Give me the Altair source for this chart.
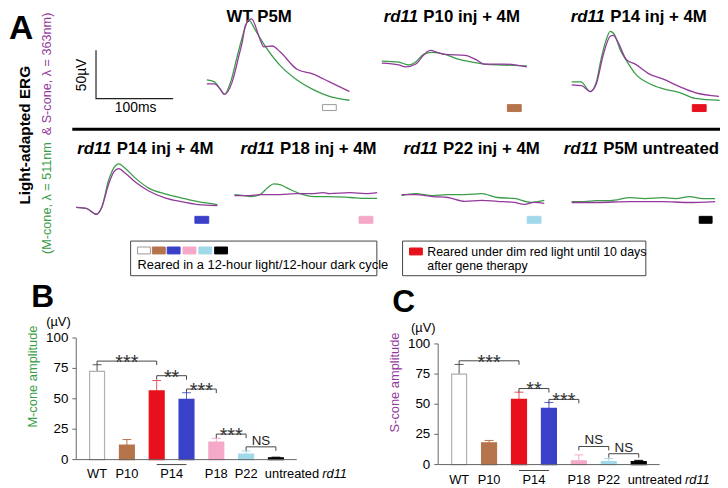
import altair as alt
import pandas as pd

OFF = 8  # page margin: figure pixel -> chart pixel
FONT = "Liberation Sans"
GREEN = "#3a9d48"
PURPLE = "#94399c"
PX_MS = 0.78   # pixels per ms in panel A
PX_UV = 0.98   # pixels per microvolt in panel A

# ---------------- Panel A: ERG traces (time in ms, amplitude in µV) ----------------
WT_M_T = [0, 10, 17, 23, 31, 40, 49, 54, 64, 74, 95, 117, 138, 159, 185]
WT_M_V = [1, -1, -8, -14, -1, 27, 53, 63, 51, 38, 16, 1, -9, -16, -20]
WT_S_T = [0, 10, 17, 23, 33, 42, 46, 50, 58, 69, 74, 85, 95, 117, 138, 159, 185]
WT_S_V = [-3, -3, -8, -14, -1, 27, 40, 57, 64, 43, 35, 36, 30, 12, 7, -1, -11]

P10_M_T = [0, 22, 35, 44, 54, 65, 82, 99, 117, 133, 159, 188]
P10_M_V = [1, 0, -3, 0, 8, 10, 8, 3, 0, -2, -3, -4]
P10_S_T = [0, 22, 31, 44, 54, 63, 72, 82, 108, 121, 133, 159, 188]
P10_S_V = [-1, -3, -5, -2, 7, 12, 10, 8, 7, 3, -2, -2, -5]

P14R_M_T = [0, 12, 24, 32, 38, 45, 50, 56, 63, 71, 83, 101, 118, 140, 160, 192]
P14R_M_V = [0, 0, -10, 0, 23, 44, 52, 48, 33, 22, 8, -2, -7, -11, -17, -19]
P14R_S_T = [0, 13, 24, 32, 41, 50, 54, 60, 71, 83, 101, 118, 140, 160, 191]
P14R_S_V = [-3, -4, -10, -2, 28, 47, 48, 41, 23, 18, 8, 3, -5, -11, -15]

P14B_M_T = [0, 13, 26, 33, 42, 49, 55, 64, 77, 94, 115, 136, 158, 183]
P14B_M_V = [0, -1, -7, 0, 28, 41, 45, 40, 30, 20, 14, 10, 6, 3]
P14B_S_T = [0, 13, 26, 33, 42, 49, 55, 64, 77, 94, 115, 136, 158, 183]
P14B_S_V = [0, -1, -7, 0, 24, 37, 40, 35, 26, 17, 10, 6, 3, 2]

P18_M_T = [0, 12, 21, 33, 43, 51, 60, 68, 85, 103, 123, 150, 170, 185]
P18_M_V = [0, -1, -2, 0, 7, 11, 10, 7, 1, -2, -2, -3, -4, -4]
P18_S_T = [0, 20, 33, 59, 80, 103, 115, 123, 150, 170, 185]
P18_S_V = [-1, -1, 0, 0, 1, 1, 2, 1, 2, 1, 2]

P22_M_T = [0, 18, 40, 60, 82, 104, 124, 146, 168, 185]
P22_M_V = [-1, 1, -1, 0, 0, 1, -3, -4, -8, -6]
P22_S_T = [0, 18, 40, 60, 82, 104, 124, 146, 159, 172, 185]
P22_S_V = [0, 0, -2, -3, -7, -6, -7, -8, -10, -8, -9]

UNT_M_T = [0, 16, 32, 50, 76, 95, 118, 135, 153, 170, 186]
UNT_M_V = [0, 0, 1, 1, 4, 3, 4, 3, 5, 3, 3]
UNT_S_T = [0, 32, 76, 118, 150, 186]
UNT_S_V = [-1, -1, 0, 0, -1, 0]

SCALEBAR_MS = [0, 0, 100]
SCALEBAR_UV = [50, 0, 0]

# ---------------- Panels B and C: amplitudes (µV) ----------------
GROUPS = ["WT", "P10", "P14 red", "P14 blue", "P18", "P22", "untreated"]
BAR_FILL = ["#ffffff", "#b5744c", "#e8101c", "#3a40c8", "#f6a8c8", "#a2d9ea", "#000000"]
BAR_STROKE = ["#b0b0b0", "#b5744c", "#e8101c", "#3a40c8", "#f6a8c8", "#a2d9ea", "#000000"]
ERR_COLOR = ["#555555", "#b5744c", "#e8505e", "#5a60d0", "#f6a8c8", "#a2d9ea", "#000000"]

M_AMP = [72.5, 12, 56.5, 49.5, 14.5, 4.5, 1.5]
M_ERR_TOP = [78, 16.5, 65, 55, 17.5, 7, 2]
S_AMP = [75, 18, 54, 46.5, 3, 2.5, 2.5]
S_ERR_TOP = [83, 20, 60, 51.5, 8, 5, 3.5]

M_BR_FROM = [1, 3, 4, 5, 6]
M_BR_TO = [3, 4, 5, 6, 7]
M_BR_H = [81, 69, 58, 21, 10.5]
M_BR_LAB = ["***", "**", "***", "***", "NS"]
S_BR_FROM = [1, 3, 4, 5, 6]
S_BR_TO = [3, 4, 5, 6, 7]
S_BR_H = [86, 63, 54, 15, 9]
S_BR_LAB = ["***", "**", "***", "NS", "NS"]

Y_TICKS = [0, 25, 50, 75, 100]
X_LAB_POS = [1, 2, 3.5, 5, 6]
X_LAB = ["WT", "P10", "P14", "P18", "P22"]

ONE = pd.DataFrame({"a": [0]})
layers = []


def txt(s, x, y, size, color="black", weight="normal", style="normal",
        align="center", baseline="middle", angle=0):
    return alt.Chart(ONE).mark_text(
        text=s, font=FONT, fontSize=size, fontWeight=weight, fontStyle=style,
        color=color, align=align, baseline=baseline, angle=angle
    ).encode(x=alt.value(x - OFF), y=alt.value(y - OFF))


def box(x1, x2, y1, y2, fill, stroke, sw=1):
    return alt.Chart(ONE).mark_rect(fill=fill, stroke=stroke, strokeWidth=sw).encode(
        x=alt.value(x1 - OFF), x2=alt.value(x2 - OFF),
        y=alt.value(y1 - OFF), y2=alt.value(y2 - OFF))


def trace(tm, vm, ts, vs, x0, y0):
    df = pd.DataFrame({
        "t": tm + ts, "v": vm + vs,
        "s": ["M"] * len(tm) + ["S"] * len(ts),
        "c": [GREEN] * len(tm) + [PURPLE] * len(ts),
    })
    xs = alt.Scale(domain=[0, 200], range=[x0 - OFF, x0 - OFF + 200 * PX_MS], nice=False, zero=False)
    ys = alt.Scale(domain=[-50, 70], range=[y0 - OFF + 50 * PX_UV, y0 - OFF - 70 * PX_UV],
                   nice=False, zero=False)
    return alt.Chart(df).mark_line(strokeWidth=1.3, interpolate="monotone").encode(
        x=alt.X("t:Q", scale=xs, axis=None),
        y=alt.Y("v:Q", scale=ys, axis=None),
        color=alt.Color("c:N", scale=None),
        detail="s:N")


# ---- panel A texts ----
layers.append(txt("A", 9, 27, 34, weight="bold", align="left"))
layers.append(txt("Light-adapted ERG", 25, 134, 15.5, weight="bold", angle=270))
layers.append(txt("(M-cone, λ = 511nm", 47, 254, 12.8, color=GREEN, align="left", angle=270))
layers.append(txt("& S-cone, λ = 363nm)", 47, 10, 12.8, color=PURPLE, align="right", angle=270))

# scale bar
sb = pd.DataFrame({"t": SCALEBAR_MS, "v": SCALEBAR_UV, "o": [0, 1, 2]})
layers.append(alt.Chart(sb).mark_line(color="#222", strokeWidth=1.2).encode(
    x=alt.X("t:Q", scale=alt.Scale(domain=[0, 100], range=[97 - OFF, 97 - OFF + 100 * PX_MS], nice=False, zero=False), axis=None),
    y=alt.Y("v:Q", scale=alt.Scale(domain=[0, 50], range=[97 - OFF, 97 - OFF - 50 * PX_UV], nice=False, zero=False), axis=None),
    order="o:Q"))
layers.append(txt("50µV", 83, 73, 14, angle=270))
layers.append(txt("100ms", 137, 106, 14))

# titles
layers.append(txt("WT P5M", 262, 14, 17, weight="bold"))
for xs_, ys_, rest in [(388, 14, "P10 inj + 4M"), (577, 14, "P14 inj + 4M"),
                       (78, 148, "P14 inj + 4M"), (243, 148, "P18 inj + 4M"),
                       (408, 148, "P22 inj + 4M"), (570, 148, "P5M untreated")]:
    layers.append(txt("rd11", xs_, ys_, 17, weight="bold", style="italic", align="left"))
    layers.append(txt(rest, xs_ + 40, ys_, 17, weight="bold", align="left"))

# traces
layers.append(trace(WT_M_T, WT_M_V, WT_S_T, WT_S_V, 209, 79))
layers.append(trace(P10_M_T, P10_M_V, P10_S_T, P10_S_V, 386, 60))
layers.append(trace(P14R_M_T, P14R_M_V, P14R_S_T, P14R_S_V, 578, 80))
layers.append(trace(P14B_M_T, P14B_M_V, P14B_S_T, P14B_S_V, 77, 207))
layers.append(trace(P18_M_T, P18_M_V, P18_S_T, P18_S_V, 237, 194))
layers.append(trace(P22_M_T, P22_M_V, P22_S_T, P22_S_V, 406, 194))
layers.append(trace(UNT_M_T, UNT_M_V, UNT_S_T, UNT_S_V, 578, 201))

# group swatches under the traces
layers.append(box(326, 340, 103, 109, "#ffffff", "#999999"))
layers.append(box(513, 527, 103, 110, BAR_FILL[1], BAR_FILL[1]))
layers.append(box(700, 714, 103, 110, BAR_FILL[2], BAR_FILL[2]))
layers.append(box(197, 211, 216, 223, BAR_FILL[3], BAR_FILL[3]))
layers.append(box(363, 377, 216, 223, BAR_FILL[4], BAR_FILL[4]))
layers.append(box(533, 547, 216, 223, BAR_FILL[5], BAR_FILL[5]))
layers.append(box(707, 720, 216, 223, BAR_FILL[6], BAR_FILL[6]))

# separator
layers.append(alt.Chart(ONE).mark_rule(color="black", strokeWidth=3).encode(
    x=alt.value(73 - OFF), x2=alt.value(728 - OFF), y=alt.value(128 - OFF)))

# legend boxes
layers.append(box(132, 381, 241, 276, "#ffffff", "#444444"))
sw_x = [139, 154, 169, 185, 201, 217]
for i, c in enumerate(["#ffffff", BAR_FILL[1], BAR_FILL[3], BAR_FILL[4], BAR_FILL[5], BAR_FILL[6]]):
    layers.append(box(sw_x[i], sw_x[i] + 13, 247, 254, c, "#999999" if i == 0 else c))
layers.append(txt("Reared in a 12-hour light/12-hour dark cycle", 139, 265, 13, align="left"))
layers.append(box(407, 653, 241, 276, "#ffffff", "#444444"))
layers.append(box(414, 427, 248, 255, BAR_FILL[2], BAR_FILL[2]))
layers.append(txt("Reared under dim red light until 10 days", 432, 252, 12.5, align="left"))
layers.append(txt("after gene therapy", 432, 266, 12.5, align="left"))


# ---------------- bar panels ----------------
def bar_panel(amp, top, bfrom, bto, bh, blab, xr, yr, xlab_y, ul_y):
    XS = alt.Scale(domain=[0.3, 7.7], range=[xr[0] - OFF, xr[1] - OFF], nice=False, zero=False)
    YS = alt.Scale(domain=[0, 100], range=[yr[0] - OFF, yr[1] - OFF], nice=False, zero=False)
    out = []
    pos = list(range(1, 8))
    df = pd.DataFrame({"g": GROUPS, "pos": pos, "val": amp, "top": top,
                       "fill": BAR_FILL, "stroke": BAR_STROKE, "ecol": ERR_COLOR})
    df["l"] = df["pos"] - 0.25
    df["r"] = df["pos"] + 0.25
    df["cl"] = df["pos"] - 0.15
    df["cr"] = df["pos"] + 0.15
    df["zero"] = 0.0
    base = alt.Chart(df)
    # error bars (upper only)
    out.append(base.mark_rule(strokeWidth=1).encode(
        x=alt.X("pos:Q", scale=XS, axis=None), y=alt.Y("val:Q", scale=YS, axis=None), y2="top:Q",
        color=alt.Color("ecol:N", scale=None)))
    out.append(base.mark_rule(strokeWidth=1).encode(
        x=alt.X("cl:Q", scale=XS, axis=None), x2="cr:Q", y=alt.Y("top:Q", scale=YS, axis=None),
        color=alt.Color("ecol:N", scale=None)))
    # bars
    out.append(base.mark_rect(strokeWidth=1.2).encode(
        x=alt.X("l:Q", scale=XS, axis=None), x2="r:Q",
        y=alt.Y("val:Q", scale=YS, axis=None), y2="zero:Q",
        fill=alt.Fill("fill:N", scale=None), stroke=alt.Stroke("stroke:N", scale=None)))
    # axes
    ax = pd.DataFrame({"x0": [0.3], "x1": [7.7], "y0": [0.0], "y1": [100.0]})
    out.append(alt.Chart(ax).mark_rule(color="#666666", strokeWidth=1).encode(
        x=alt.X("x0:Q", scale=XS, axis=None), y=alt.Y("y0:Q", scale=YS, axis=None), y2="y1:Q"))
    out.append(alt.Chart(ax).mark_rule(color="#666666", strokeWidth=1).encode(
        x=alt.X("x0:Q", scale=XS, axis=None), x2="x1:Q", y=alt.Y("y0:Q", scale=YS, axis=None)))
    tk = pd.DataFrame({"v": Y_TICKS, "lab": [str(v) for v in Y_TICKS]})
    tk["a"] = 0.3 - 0.13
    tk["b"] = 0.3
    out.append(alt.Chart(tk).mark_rule(color="#666666").encode(
        x=alt.X("a:Q", scale=XS, axis=None), x2="b:Q", y=alt.Y("v:Q", scale=YS, axis=None)))
    out.append(alt.Chart(tk).mark_text(font=FONT, fontSize=13.5, align="right", baseline="middle", dx=-8).encode(
        x=alt.X("b:Q", scale=XS, axis=None), y=alt.Y("v:Q", scale=YS, axis=None), text="lab:N"))
    # x labels
    xl = pd.DataFrame({"pos": X_LAB_POS, "lab": X_LAB})
    out.append(alt.Chart(xl).mark_text(font=FONT, fontSize=13, baseline="middle").encode(
        x=alt.X("pos:Q", scale=XS, axis=None), y=alt.value(xlab_y - OFF), text="lab:N"))
    un = pd.DataFrame({"pos": [6.63], "a": ["untreated"], "b": ["rd11"]})
    out.append(alt.Chart(un).mark_text(font=FONT, fontSize=13, baseline="middle", align="left").encode(
        x=alt.X("pos:Q", scale=XS, axis=None), y=alt.value(xlab_y - OFF), text="a:N"))
    out.append(alt.Chart(un).mark_text(font=FONT, fontSize=13, baseline="middle", align="left",
                                       fontStyle="italic", dx=58).encode(
        x=alt.X("pos:Q", scale=XS, axis=None), y=alt.value(xlab_y - OFF), text="b:N"))
    ul = pd.DataFrame({"a": [3.0], "b": [4.0]})
    out.append(alt.Chart(ul).mark_rule(color="#444444").encode(
        x=alt.X("a:Q", scale=XS, axis=None), x2="b:Q", y=alt.value(ul_y - OFF)))
    # significance brackets
    br = pd.DataFrame({"a": bfrom, "b": bto, "h": bh, "lab": blab})
    br["mid"] = (br["a"] + br["b"]) / 2
    br["low"] = br["h"] - 3.3
    out.append(alt.Chart(br).mark_rule(color="#444444").encode(
        x=alt.X("a:Q", scale=XS, axis=None), x2="b:Q", y=alt.Y("h:Q", scale=YS, axis=None)))
    out.append(alt.Chart(br).mark_rule(color="#444444").encode(
        x=alt.X("a:Q", scale=XS, axis=None), y=alt.Y("h:Q", scale=YS, axis=None), y2="low:Q"))
    out.append(alt.Chart(br).mark_rule(color="#444444").encode(
        x=alt.X("b:Q", scale=XS, axis=None), y=alt.Y("h:Q", scale=YS, axis=None), y2="low:Q"))
    stars = br[br["lab"] != "NS"]
    ns = br[br["lab"] == "NS"]
    out.append(alt.Chart(stars).mark_text(font=FONT, fontSize=20, color="#333333",
                                          baseline="alphabetic", dy=8).encode(
        x=alt.X("mid:Q", scale=XS, axis=None), y=alt.Y("h:Q", scale=YS, axis=None), text="lab:N"))
    if len(ns):
        out.append(alt.Chart(ns).mark_text(font=FONT, fontSize=13.5, color="#222222",
                                           baseline="alphabetic", dy=-2).encode(
            x=alt.X("mid:Q", scale=XS, axis=None), y=alt.Y("h:Q", scale=YS, axis=None), text="lab:N"))
    return out


layers += bar_panel(M_AMP, M_ERR_TOP, M_BR_FROM, M_BR_TO, M_BR_H, M_BR_LAB,
                    (77, 300), (462, 339), 477, 467)
layers.append(txt("B", 43, 298, 32, weight="bold"))
layers.append(txt("(µV)", 59, 323, 13))
layers.append(txt("M-cone amplitude", 33, 378, 13, color=GREEN, angle=270))

layers += bar_panel(S_AMP, S_ERR_TOP, S_BR_FROM, S_BR_TO, S_BR_H, S_BR_LAB,
                    (443, 667), (467, 345), 483, 473)
layers.append(txt("C", 408, 303, 32, weight="bold"))
layers.append(txt("(µV)", 428, 329, 13))
layers.append(txt("S-cone amplitude", 399, 384, 13, color=PURPLE, angle=270))

chart = alt.layer(*layers).resolve_scale(x="independent", y="independent").properties(
    width=720, height=480, padding=0, background="white",
    autosize=alt.AutoSizeParams(type="none")
).configure_view(stroke=None)

chart.save("out.html", embed_options={"renderer": "svg", "actions": False})
